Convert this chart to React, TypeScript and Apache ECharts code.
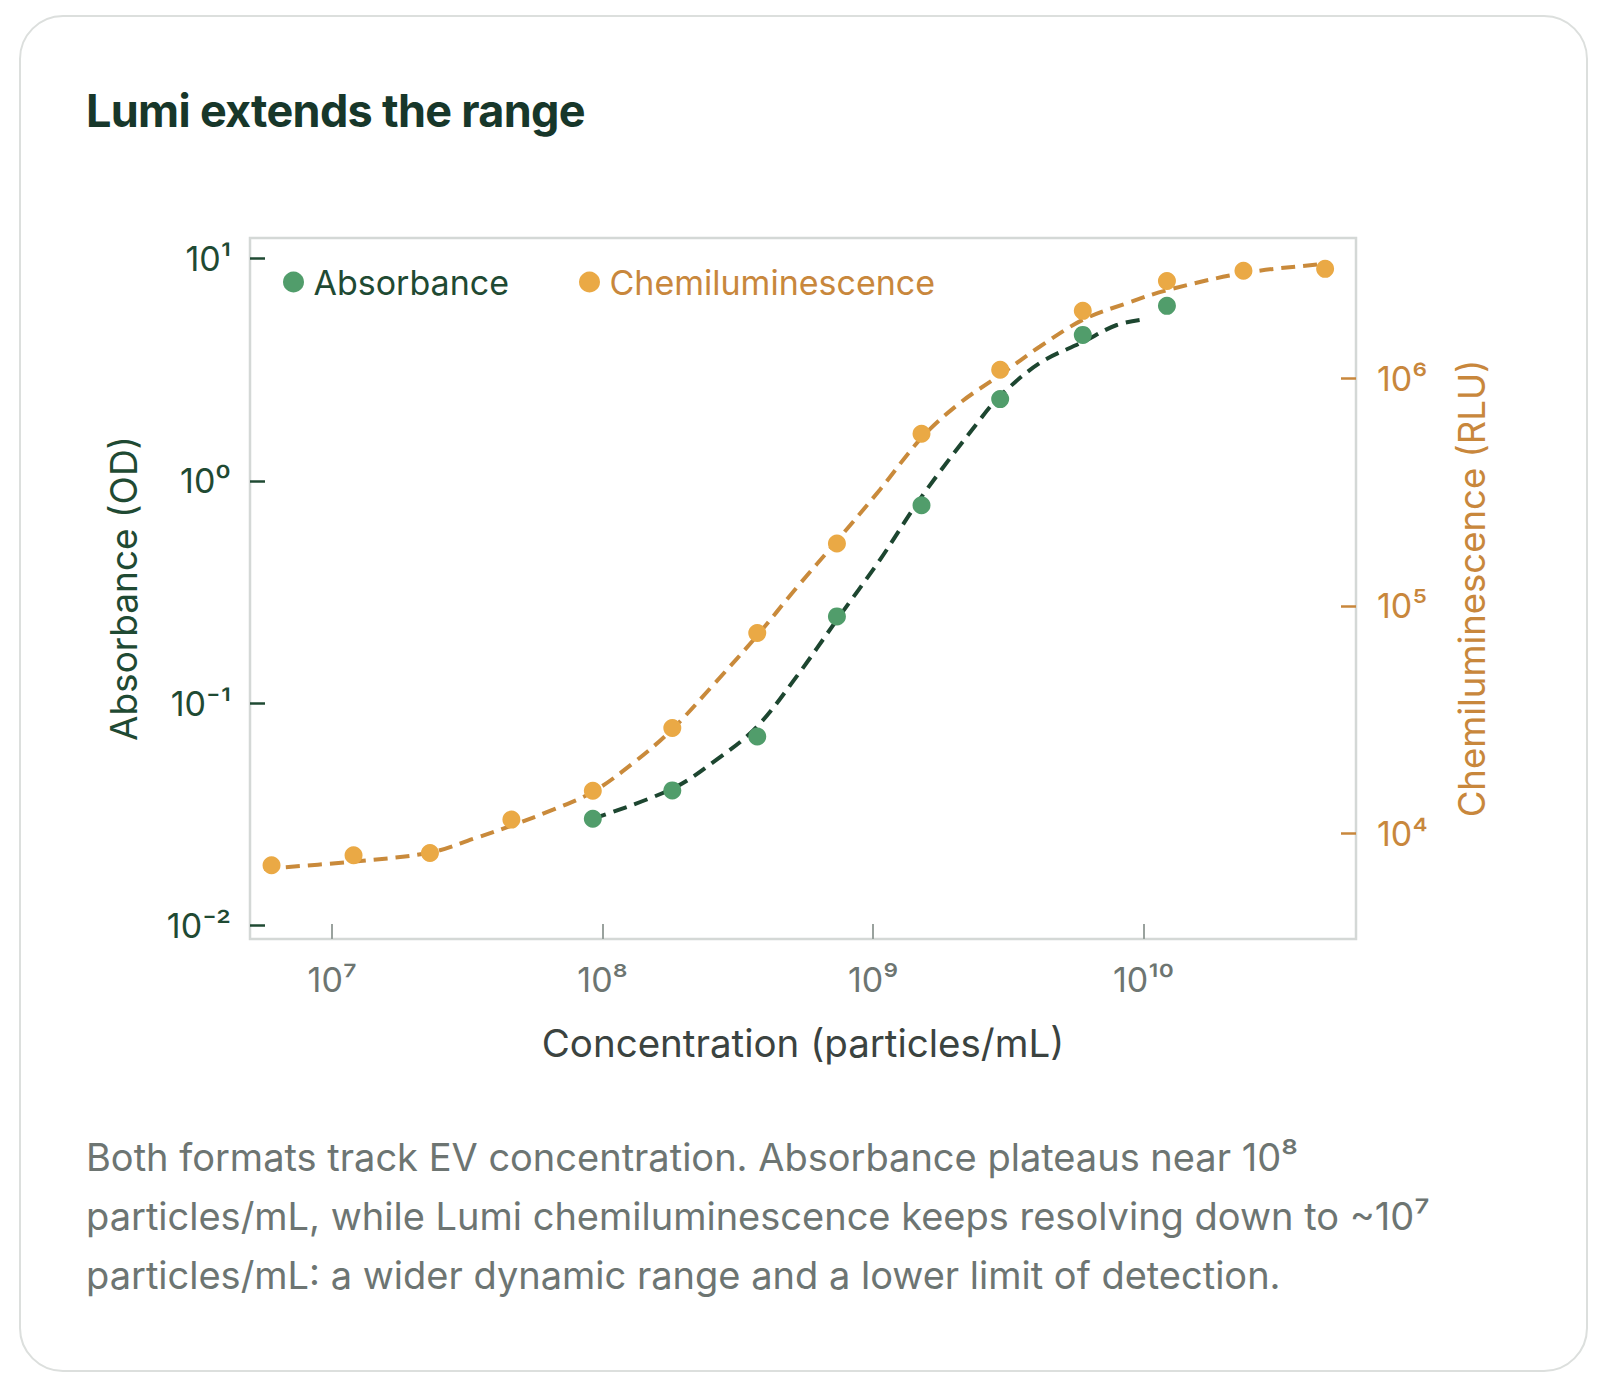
import React, { useEffect, useRef } from "react";
import * as echarts from "echarts";

// ---- data ----
const CONCENTRATION = [5.97e6, 1.2e7, 2.3e7, 4.6e7, 9.2e7, 1.81e8, 3.73e8, 7.35e8, 1.51e9, 2.95e9, 5.96e9, 1.22e10, 2.34e10, 4.69e10];
const CHEMI_RLU = [7230, 8000, 8190, 11480, 15380, 29000, 75900, 188000, 571000, 1.09e6, 1.98e6, 2.68e6, 2.97e6, 3.03e6];

const ABS_CONC = [9.2e7, 1.81e8, 3.73e8, 7.35e8, 1.51e9, 2.95e9, 5.96e9, 1.22e10];
const ABS_OD = [0.0302, 0.0405, 0.0708, 0.2455, 0.776, 2.33, 4.53, 6.12];

// fitted curves
const CHEMI_FIT_CONC = [5.6e6, 1.19e7, 2.3e7, 3.32e7, 4.61e7, 6.56e7, 9.2e7, 1.3e8, 1.8e8, 2.6e8, 3.72e8, 5.21e8, 7.35e8, 1.06e9, 1.51e9, 2.09e9, 2.95e9, 4.14e9, 5.97e9, 8.67e9, 1.22e10, 2.33e10, 4.5e10, 4.9e10];
const CHEMI_FIT_RLU = [6980, 7500, 8220, 9440, 10800, 12700, 15200, 20400, 28500, 45700, 73800, 120000, 193000, 324000, 547000, 778000, 1.035e6, 1.38e6, 1.81e6, 2.14e6, 2.44e6, 2.9e6, 3.18e6, 3.21e6];

const ABS_FIT_CONC = [9.2e7, 1.81e8, 2.64e8, 3.72e8, 5.21e8, 7.35e8, 1.06e9, 1.51e9, 2.48e9, 2.95e9, 4.14e9, 5.96e9, 7.96e9, 1.02e10];
const ABS_FIT_OD = [0.0302, 0.0412, 0.0557, 0.0783, 0.1315, 0.237, 0.441, 0.847, 1.88, 2.41, 3.39, 4.21, 5.02, 5.34];

// axis ranges and ticks
const X_RANGE = [4.97e6, 6.1e10];
const OD_RANGE = [0.00869, 12.36];
const RLU_RANGE = [3428, 4.14e6];
const X_TICKS = [1e7, 1e8, 1e9, 1e10];
const OD_TICKS = [0.01, 0.1, 1, 10];
const RLU_TICKS = [1e4, 1e5, 1e6];

const TITLE = "Lumi extends the range";
const FOOTER_LINES = [
  "Both formats track EV concentration. Absorbance plateaus near 10⁸",
  "particles/mL, while Lumi chemiluminescence keeps resolving down to ~10⁷",
  "particles/mL: a wider dynamic range and a lower limit of detection.",
];

// ---- styles ----
const FONT = 'Inter, "Noto Sans", sans-serif';
const DARK_GREEN = "#1f4a33";
const GREEN_DOT = "#519d6b";
const GREEN_LINE = "#1d4630";
const ORANGE_DOT = "#eaa945";
const ORANGE_LINE = "#c98a3b";
const ORANGE_TEXT = "#c8873c";
const GREY_LABEL = "#6d7571";
const GREY_TICK = "#9aa29e";
const BORDER = "#d4d8d6";

const SUP: Record<string, string> = {
  "-": "⁻", "0": "⁰", "1": "¹", "2": "²", "3": "³", "4": "⁴",
  "5": "⁵", "6": "⁶", "7": "⁷", "8": "⁸", "9": "⁹",
};
const pow10Label = (v: number) =>
  "10" + String(Math.round(v)).split("").map((c) => SUP[c] || c).join("");

const lg = (v: number) => Math.log10(v);
const pairs = (xs: number[], ys: number[]) => xs.map((x, i) => [lg(x), lg(ys[i])]);

function buildOption(): echarts.EChartsOption {
  const legendBase = {
    top: 265,
    icon: "circle",
    itemWidth: 30,
    itemHeight: 21,
    padding: 0,
    selectedMode: false,
    textStyle: { fontSize: 34, fontFamily: FONT },
  };
  return {
    animation: false,
    backgroundColor: "transparent",
    textStyle: { fontFamily: FONT },
    grid: {
      left: 250,
      right: 252,
      top: 238,
      bottom: 443,
      show: true,
      borderColor: BORDER,
      borderWidth: 2.5,
      backgroundColor: "transparent",
    },
    legend: [
      {
        ...legendBase,
        left: 283,
        data: [{ name: "Absorbance", textStyle: { color: DARK_GREEN } }],
      },
      {
        ...legendBase,
        left: 579,
        data: [{ name: "Chemiluminescence", textStyle: { color: ORANGE_TEXT } }],
      },
    ] as any,
    xAxis: {
      type: "value",
      min: lg(X_RANGE[0]),
      max: lg(X_RANGE[1]),
      axisLine: { show: false, onZero: false },
      splitLine: { show: false },
      axisTick: {
        show: true,
        inside: true,
        length: 15,
        customValues: X_TICKS.map(lg),
        lineStyle: { color: GREY_TICK, width: 2 },
      },
      axisLabel: {
        customValues: X_TICKS.map(lg),
        formatter: (v: number) => pow10Label(v),
        color: GREY_LABEL,
        fontSize: 34,
        fontFamily: FONT,
        margin: 23,
      },
      name: "Concentration (particles/mL)",
      nameLocation: "middle",
      nameGap: 84,
      nameTextStyle: { fontSize: 38.5, color: "#3b4340", fontFamily: FONT },
    },
    yAxis: [
      {
        type: "value",
        position: "left",
        min: lg(OD_RANGE[0]),
        max: lg(OD_RANGE[1]),
        axisLine: { show: false, onZero: false },
        splitLine: { show: false },
        axisTick: {
          show: true,
          inside: true,
          length: 15,
          customValues: OD_TICKS.map(lg),
          lineStyle: { color: DARK_GREEN, width: 2.5 },
        },
        axisLabel: {
          customValues: OD_TICKS.map(lg),
          formatter: (v: number) => pow10Label(v),
          color: DARK_GREEN,
          fontSize: 34,
          fontFamily: FONT,
          margin: 19,
        },
        name: "Absorbance (OD)",
        nameLocation: "middle",
        nameRotate: 90,
        nameGap: 108,
        nameTextStyle: { fontSize: 37, color: DARK_GREEN, fontFamily: FONT },
      },
      {
        type: "value",
        position: "right",
        min: lg(RLU_RANGE[0]),
        max: lg(RLU_RANGE[1]),
        axisLine: { show: false, onZero: false },
        splitLine: { show: false },
        axisTick: {
          show: true,
          inside: true,
          length: 15,
          customValues: RLU_TICKS.map(lg),
          lineStyle: { color: ORANGE_TEXT, width: 2.5 },
        },
        axisLabel: {
          customValues: RLU_TICKS.map(lg),
          formatter: (v: number) => pow10Label(v),
          color: ORANGE_TEXT,
          fontSize: 34,
          fontFamily: FONT,
          margin: 21,
        },
        name: "Chemiluminescence (RLU)",
        nameLocation: "middle",
        nameRotate: 90,
        nameGap: 97,
        nameTextStyle: { fontSize: 36.5, color: ORANGE_TEXT, fontFamily: FONT },
      },
    ],
    series: [
      {
        name: "Chemiluminescence fit",
        type: "line",
        yAxisIndex: 1,
        data: pairs(CHEMI_FIT_CONC, CHEMI_FIT_RLU),
        smooth: 0.35,
        showSymbol: false,
        silent: true,
        lineStyle: { color: ORANGE_LINE, width: 4, type: [14, 8], cap: "butt" },
        z: 2,
      },
      {
        name: "Absorbance fit",
        type: "line",
        yAxisIndex: 0,
        data: pairs(ABS_FIT_CONC, ABS_FIT_OD),
        smooth: 0.35,
        showSymbol: false,
        silent: true,
        lineStyle: { color: GREEN_LINE, width: 4, type: [14, 8], cap: "butt" },
        z: 2,
      },
      {
        name: "Absorbance",
        type: "scatter",
        yAxisIndex: 0,
        data: pairs(ABS_CONC, ABS_OD),
        symbol: "circle",
        symbolSize: 18,
        itemStyle: { color: GREEN_DOT, opacity: 1 },
        z: 5,
      },
      {
        name: "Chemiluminescence",
        type: "scatter",
        yAxisIndex: 1,
        data: pairs(CONCENTRATION, CHEMI_RLU),
        symbol: "circle",
        symbolSize: 18,
        itemStyle: { color: ORANGE_DOT, opacity: 1 },
        z: 5,
      },
    ],
  };
}

export default function App() {
  const ref = useRef<HTMLDivElement>(null);
  useEffect(() => {
    document.body.style.margin = "0";
    document.body.style.background = "#ffffff";
    if (!ref.current) return;
    const chart = echarts.init(ref.current, null, { renderer: "svg" });
    chart.setOption(buildOption());
    return () => chart.dispose();
  }, []);

  return (
    <div style={{ position: "relative", width: 1608, height: 1382, background: "#fff", fontFamily: FONT, overflow: "hidden" }}>
      <div
        style={{
          position: "absolute",
          left: 19,
          top: 15,
          width: 1569,
          height: 1357,
          border: "2.5px solid #dcdfdd",
          borderRadius: 44,
          boxSizing: "border-box",
        }}
      />
      <div ref={ref} style={{ position: "absolute", left: 0, top: 0, width: 1608, height: 1382 }} />
      <div
        style={{
          position: "absolute",
          left: 86,
          top: 88,
          fontSize: 45,
          fontWeight: 700,
          lineHeight: "45px",
          color: "#17372a",
          letterSpacing: -0.7,
          whiteSpace: "nowrap",
        }}
      >
        {TITLE}
      </div>
      <div
        style={{
          position: "absolute",
          left: 86,
          top: 1128,
          fontSize: 38,
          lineHeight: "59px",
          color: "#6d7572",
          whiteSpace: "nowrap",
        }}
      >
        {FOOTER_LINES.map((l, i) => (
          <div key={i}>{l}</div>
        ))}
      </div>
    </div>
  );
}
